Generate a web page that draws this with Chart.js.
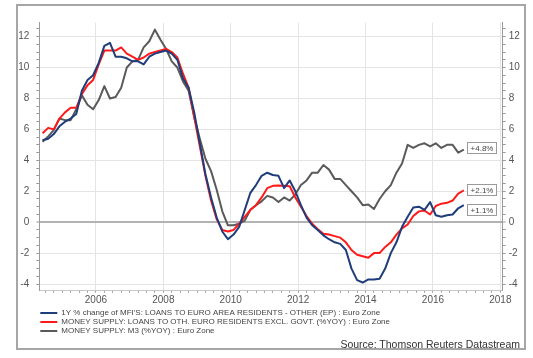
<!DOCTYPE html>
<html>
<head>
<meta charset="utf-8">
<script src="https://cdn.jsdelivr.net/npm/chart.js@4.4.0/dist/chart.umd.min.js"></script>
<style>
  html, body { margin: 0; padding: 0; background: #fff; }
  #wrap { position: relative; width: 533px; height: 358px; }
  #frame { position: absolute; left: 16px; top: 4px; width: 506px; height: 342px; border: 2px solid #a6a6a6; pointer-events: none; }
  #source { position: absolute; right: 13px; top: 338px; font: 10.5px "Liberation Sans", Arial, sans-serif; color: #333; white-space: nowrap; }
</style>
</head>
<body>
<div id="wrap">
  <canvas id="chart" width="533" height="358"></canvas>
  <div id="frame"></div>
  <div id="source">Source: Thomson Reuters Datastream</div>
</div>
<script>
// two-monthly samples, first one June 2004
const firstYear = 2004, firstMonth = 6, stepMonths = 2, sampleCount = 76;
const dates = Array.from({ length: sampleCount }, (_, i) => firstYear + (firstMonth - 1 + i * stepMonths) / 12);

const seriesNames = [
    "1Y % change of MFI'S: LOANS TO EURO AREA RESIDENTS - OTHER (EP) : Euro Zone",
    'MONEY SUPPLY: LOANS TO OTH. EURO RESIDENTS EXCL. GOVT. (%YOY) : Euro Zone',
    'MONEY SUPPLY: M3 (%YOY) : Euro Zone',
];

const mfiLoans = [
    5.3, 5.4, 5.7, 6.2, 6.5, 6.7, 7.0, 8.5, 9.2, 9.5,
    10.3, 11.4, 11.6, 10.7, 10.7, 10.6, 10.4, 10.4, 10.2, 10.7,
    10.9, 11.0, 11.1, 10.9, 10.5, 9.3, 8.7, 7.1, 5.1, 3.1,
    1.6, 0.3, -0.6, -1.1, -0.8, -0.3, 0.8, 1.9, 2.4, 3.0,
    3.2, 3.05, 3.0, 2.2, 2.7, 2.0, 1.1, 0.3, -0.2, -0.5,
    -0.85, -1.1, -1.3, -1.4, -1.8, -3.0, -3.75, -3.9, -3.7, -3.7,
    -3.65, -3.0, -2.0, -1.3, -0.3, 0.35, 0.95, 1.0, 0.8, 1.3,
    0.45, 0.35, 0.45, 0.5, 0.9, 1.1,
];

const privateLoans = [
    5.75, 6.1, 6.0, 6.7, 7.1, 7.4, 7.4, 8.3, 8.85, 9.2,
    10.2, 11.1, 11.1, 11.1, 11.3, 10.9, 10.7, 10.5, 10.65, 10.9,
    11.0, 11.1, 11.2, 11.0, 10.65, 9.6, 8.7, 6.8, 4.9, 3.0,
    1.4, 0.2, -0.5, -0.6, -0.5, -0.1, 0.35, 0.8, 1.1, 1.6,
    2.2, 2.35, 2.37, 2.35, 2.32, 1.6, 1.0, 0.4, -0.1, -0.45,
    -0.75, -0.8, -0.9, -1.0, -1.3, -1.8, -2.1, -2.2, -2.3, -2.0,
    -2.0, -1.6, -1.3, -0.8, -0.4, -0.15, 0.4, 0.7, 0.75, 0.5,
    1.05, 1.2, 1.25, 1.4, 1.85, 2.05,
];

const m3 = [
    5.2, 5.55, 5.95, 6.7, 6.6, 6.6, 7.3, 8.2, 7.6, 7.3,
    7.9, 8.8, 8.0, 8.1, 8.7, 10.0, 10.4, 10.5, 11.3, 11.7,
    12.45, 11.8, 11.2, 10.4, 10.0, 9.1, 8.5, 6.8, 5.4, 4.1,
    3.3, 2.1, 0.7, -0.2, -0.2, -0.1, 0.1, 0.8, 1.1, 1.35,
    1.7, 1.6, 1.3, 1.6, 1.4, 1.8, 2.4, 2.7, 3.2, 3.2,
    3.7, 3.4, 2.8, 2.8, 2.4, 2.0, 1.6, 1.1, 1.15, 0.85,
    1.5, 2.0, 2.4, 3.2, 3.8, 5.0, 4.8, 5.0, 5.1, 4.9,
    5.1, 4.8, 5.0, 5.0, 4.5, 4.7,
];

// latest readings printed in the boxes at the right
const endLabels = [1.1, 2.1, 4.8];

const yMajorStep = 2, yMinorStep = 0.5, yTickFrom = -4, yTickTo = 12.5;
const xMinorStep = 0.25, xTickFrom = 2004.5, xTickTo = 2018;

const colors = ['#1f3d7a', '#ff1a1a', '#5a5a5a'];
const FONT = '"Liberation Sans", Arial, sans-serif';

const toPoints = (vals) => vals.map((v, i) => ({ x: dates[i], y: v }));

const yTicks = [];
for (let v = yTickFrom; v <= yTickTo + 1e-9; v += yMinorStep) yTicks.push({ value: v });
const xTicks = [];
for (let v = xTickFrom; v <= xTickTo + 1e-9; v += xMinorStep) xTicks.push({ value: v });

const isEvenYear = (v) => Math.abs(v - Math.round(v)) < 1e-6 && Math.round(v) % 2 === 0;
const isMajorY = (v) => Math.abs(v / yMajorStep - Math.round(v / yMajorStep)) < 1e-6;

const endBoxes = {
    id: 'endBoxes',
    afterDatasetsDraw(chart) {
        const { ctx, chartArea } = chart;
        const y = chart.scales.y;
        const boxes = endLabels.map((v) => ({ v, py: y.getPixelForValue(v) }))
            .sort((a, b) => a.py - b.py);
        for (let i = 1; i < boxes.length; i++) {
            if (boxes[i].py - boxes[i - 1].py < 20) boxes[i].py = boxes[i - 1].py + 20;
        }
        const w = 29, h = 11, x = Math.round(chartArea.right - 35.5);
        ctx.save();
        ctx.font = '8px ' + FONT;
        ctx.textAlign = 'center';
        ctx.textBaseline = 'middle';
        boxes.forEach((b) => {
            const top = Math.round(b.py - h / 2);
            ctx.fillStyle = '#fff';
            ctx.fillRect(x, top, w, h);
            ctx.strokeStyle = '#9a9a9a';
            ctx.lineWidth = 1;
            ctx.strokeRect(x + 0.5, top + 0.5, w, h);
            ctx.fillStyle = '#444';
            ctx.fillText('+' + b.v.toFixed(1) + '%', x + w / 2 + 0.5, top + h / 2 + 1);
        });
        ctx.restore();
    },
};

const yAxis = (position) => ({
    type: 'linear',
    position,
    min: -4.43,
    max: 12.9,
    afterBuildTicks: (s) => { s.ticks = yTicks.map((t) => ({ ...t })); },
    afterFit: (s) => { s.width = position === 'left' ? 39.3 : 30.3; },
    border: { color: '#9a9a9a', width: 1 },
    grid: {
        drawOnChartArea: position === 'left',
        color: (c) => {
            const v = c.tick ? c.tick.value : NaN;
            if (Math.abs(v) < 1e-9) return '#b3b3b3';
            return isMajorY(v) ? '#e4e4e4' : 'rgba(0,0,0,0)';
        },
        lineWidth: (c) => (c.tick && Math.abs(c.tick.value) < 1e-9 ? 2 : 1),
        tickColor: '#9a9a9a',
        tickWidth: 1,
        tickLength: 3,
    },
    ticks: {
        autoSkip: false,
        padding: position === 'left' ? 7 : 3,
        color: '#555',
        font: { size: 10, family: FONT },
        callback: (v) => (isMajorY(v) ? String(Math.round(v)) : ''),
    },
});

new Chart(document.getElementById('chart'), {
    type: 'line',
    data: {
        datasets: [
            { label: seriesNames[0], data: toPoints(mfiLoans), borderColor: colors[0], backgroundColor: colors[0] },
            { label: seriesNames[1], data: toPoints(privateLoans), borderColor: colors[1], backgroundColor: colors[1] },
            { label: seriesNames[2], data: toPoints(m3), borderColor: colors[2], backgroundColor: colors[2] },
        ],
    },
    options: {
        responsive: false,
        animation: false,
        devicePixelRatio: 1,
        layout: { padding: { top: 22.7, bottom: 13, left: 0, right: 0 } },
        elements: {
            line: { borderWidth: 2, tension: 0, borderJoinStyle: 'round' },
            point: { radius: 0, hoverRadius: 0 },
        },
        scales: {
            x: {
                type: 'linear',
                min: 2004.32,
                max: 2018.07,
                afterBuildTicks: (s) => { s.ticks = xTicks.map((t) => ({ ...t })); },
                afterFit: (s) => { s.height = 17.3; },
                border: { color: '#c8c8c8', width: 1 },
                grid: {
                    color: (c) => (c.tick && isEvenYear(c.tick.value) ? '#e4e4e4' : 'rgba(0,0,0,0)'),
                    tickColor: '#9a9a9a',
                    tickWidth: 1,
                    tickLength: 2,
                },
                ticks: {
                    autoSkip: false,
                    maxRotation: 0,
                    padding: 2,
                    color: '#555',
                    font: { size: 10, family: FONT },
                    callback: (v) => (isEvenYear(v) ? String(Math.round(v)) : ''),
                },
            },
            y: yAxis('left'),
            y2: yAxis('right'),
        },
        plugins: {
            title: { display: false },
            tooltip: { enabled: false },
            legend: {
                position: 'bottom',
                align: 'start',
                fullSize: false,
                labels: {
                    boxWidth: 17,
                    boxHeight: 2,
                    padding: 1,
                    color: '#444',
                    font: { size: 8, family: FONT },
                    generateLabels: (chart) => Chart.defaults.plugins.legend.labels.generateLabels(chart)
                        .map((l) => ({ ...l, lineWidth: 0 })),
                },
            },
        },
    },
    plugins: [endBoxes],
});
</script>
</body>
</html>
